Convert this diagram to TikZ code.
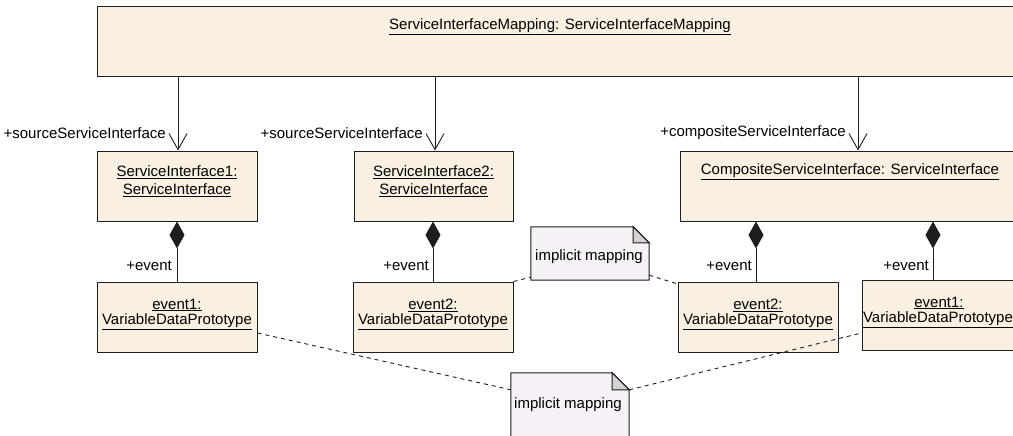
\documentclass[tikz,border=0pt]{standalone}
\usepackage{fontspec}
\setmainfont{Liberation Sans}
\usetikzlibrary{arrows.meta,calc}
\definecolor{boxfill}{RGB}{250,240,226}
\definecolor{notefill}{RGB}{245,241,246}
\definecolor{foldfill}{RGB}{212,208,212}
\definecolor{linec}{RGB}{30,30,30}
\begin{document}
\begin{tikzpicture}[x=1pt,y=-1pt,
  font=\fontsize{15}{18}\selectfont,
  umlbox/.style={draw=linec,line width=1pt,fill=boxfill,rectangle,inner sep=0pt},
  txt/.style={inner sep=0pt,align=center},
  lbl/.style={inner sep=0pt,anchor=east},
  assoc/.style={draw=linec,line width=0.9pt,-{Straight Barb[length=16pt,width=18pt,line width=0.9pt]}},
  compo/.style={draw=linec,line width=0.9pt,{Diamond[length=27pt,width=15pt]}-},
  notelink/.style={draw=linec,line width=0.9pt,dash pattern=on 4pt off 4pt},
  notebox/.style={inner sep=0pt,rectangle,draw=none},
  notetxt/.style={inner sep=0pt,font=\fontsize{15}{18}\selectfont}]
\path[use as bounding box,clip] (0,0) rectangle (1013,436);
\fill[white] (0,0) rectangle (1013,436);

% top box
\node[umlbox,minimum width=930pt,minimum height=70pt] (top) at (562,42) {};
\node[txt] (toptxt) at (560,27) {\underline{ServiceInterfaceMapping: ServiceInterfaceMapping}};

% service interface boxes
\node[umlbox,minimum width=160pt,minimum height=70pt] (si1) at (177,186) {};
\node[txt] (si1a) at (177,172) {\underline{ServiceInterface1:}};
\node[txt] (si1b) at (177,190) {\underline{ServiceInterface}};

\node[umlbox,minimum width=159pt,minimum height=70pt] (si2) at (433.5,186) {};
\node[txt] (si2a) at (433.5,172) {\underline{ServiceInterface2:}};
\node[txt] (si2b) at (433.5,190) {\underline{ServiceInterface}};

\node[umlbox,minimum width=340pt,minimum height=70pt] (comp) at (850,186) {};
\node[txt] (compt) at (850,172) {\underline{CompositeServiceInterface: ServiceInterface}};

% event boxes
\node[umlbox,minimum width=160pt,minimum height=70pt] (ev1a) at (177,317) {};
\node[txt] (ev1at) at (177,305) {\underline{event1:}};
\node[txt] (ev1ab) at (177,322) {\underline{VariableDataPrototype}};

\node[umlbox,minimum width=160pt,minimum height=70pt] (ev2a) at (433,317) {};
\node[txt] (ev2at) at (433,305) {\underline{event2:}};
\node[txt] (ev2ab) at (433,322) {\underline{VariableDataPrototype}};

\node[umlbox,minimum width=160pt,minimum height=70pt] (ev2b) at (758,317) {};
\node[txt] (ev2bt) at (758,305) {\underline{event2:}};
\node[txt] (ev2bb) at (758,322) {\underline{VariableDataPrototype}};

\node[umlbox,minimum width=160pt,minimum height=70pt] (ev1b) at (942,315) {};
\node[txt] (ev1bt) at (939,303) {\underline{event1:}};
\node[txt] (ev1bb) at (938,320) {\underline{VariableDataPrototype}};

% associations
\coordinate (x1) at (178,0);
\coordinate (x2) at (435,0);
\coordinate (x3) at (858,0);
\draw[assoc] (top.south -| x1) -- (si1.north -| x1);
\draw[assoc] (top.south -| x2) -- (si2.north -| x2);
\draw[assoc] (top.south -| x3) -- (comp.north -| x3);
\node[lbl] (l1) at (166,133) {+sourceServiceInterface};
\node[lbl] (l2) at (423,133) {+sourceServiceInterface};
\node[lbl] (l3) at (846,133) {+compositeServiceInterface};

% compositions
\coordinate (d1) at (177,0);
\coordinate (d2) at (433,0);
\coordinate (d3) at (756,0);
\coordinate (d4) at (933,0);
\draw[compo] (si1.south -| d1) -- (ev1a.north -| d1);
\draw[compo] (si2.south -| d2) -- (ev2a.north -| d2);
\draw[compo] (comp.south -| d3) -- (ev2b.north -| d3);
\draw[compo] (comp.south -| d4) -- (ev1b.north -| d4);
\node[lbl] (e1) at (172,266) {+event};
\node[lbl] (e2) at (429,266) {+event};
\node[lbl] (e3) at (752,266) {+event};
\node[lbl] (e4) at (929,266) {+event};

% note 1
\node[notebox,minimum width=118pt,minimum height=53pt] (note1) at (590,253.5) {};
\draw[linec,line width=1pt,fill=notefill]
  (note1.south west) -- (note1.north west) -- ([xshift=-16pt]note1.north east)
  -- ([yshift=-16pt]note1.north east) -- (note1.south east) -- cycle;
\draw[linec,line width=1pt,fill=foldfill]
  ([xshift=-16pt]note1.north east) -- ([xshift=-16pt,yshift=-16pt]note1.north east)
  -- ([yshift=-16pt]note1.north east) -- cycle;
\node[notetxt] (n1t) at (589,257) {implicit mapping};

% note 2
\node[notebox,minimum width=118pt,minimum height=80pt] (note2) at (570,413) {};
\draw[linec,line width=1pt,fill=notefill]
  (note2.south west) -- (note2.north west) -- ([xshift=-17pt]note2.north east)
  -- ([yshift=-17pt]note2.north east) -- (note2.south east) -- cycle;
\draw[linec,line width=1pt,fill=foldfill]
  ([xshift=-17pt]note2.north east) -- ([xshift=-17pt,yshift=-17pt]note2.north east)
  -- ([yshift=-17pt]note2.north east) -- cycle;
\node[notetxt] (n2t) at (568,405) {implicit mapping};

% note links
\draw[notelink] (ev2a.north east) -- ([yshift=3pt]note1.south west);
\draw[notelink] ([yshift=5pt]note1.south east) -- ([xshift=2pt,yshift=-3pt]ev2b.north west);
\draw[notelink] ([yshift=-16pt]ev1a.east) -- ([yshift=-17pt]note2.north west);
\draw[notelink] ([yshift=-17pt]note2.north east) -- ([yshift=-18pt]ev1b.west);
\end{tikzpicture}
\end{document}
